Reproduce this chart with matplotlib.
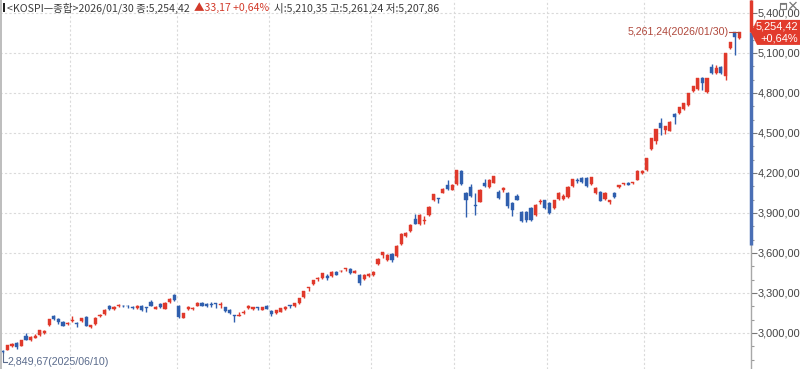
import matplotlib
matplotlib.use("Agg")
import matplotlib.pyplot as plt
from matplotlib.patches import Polygon, Rectangle
from matplotlib.ticker import MultipleLocator, FixedLocator

# ---------------- data ----------------
dates = [
    "2025/06/10", "2025/06/11", "2025/06/12", "2025/06/13", "2025/06/16", "2025/06/17", "2025/06/18",
    "2025/06/19", "2025/06/20", "2025/06/23", "2025/06/24", "2025/06/25", "2025/06/26", "2025/06/27",
    "2025/06/30",
    "2025/07/01", "2025/07/02", "2025/07/03", "2025/07/04", "2025/07/07", "2025/07/08", "2025/07/09",
    "2025/07/10", "2025/07/11", "2025/07/14", "2025/07/15", "2025/07/16", "2025/07/17", "2025/07/18",
    "2025/07/21", "2025/07/22", "2025/07/23", "2025/07/24", "2025/07/25", "2025/07/28", "2025/07/29",
    "2025/07/30", "2025/07/31",
    "2025/08/01", "2025/08/04", "2025/08/05", "2025/08/06", "2025/08/07", "2025/08/08", "2025/08/11",
    "2025/08/12", "2025/08/13", "2025/08/14", "2025/08/18", "2025/08/19", "2025/08/20", "2025/08/21",
    "2025/08/22", "2025/08/25", "2025/08/26", "2025/08/27", "2025/08/28", "2025/08/29",
    "2025/09/01", "2025/09/02", "2025/09/03", "2025/09/04", "2025/09/05", "2025/09/08", "2025/09/09",
    "2025/09/10", "2025/09/11", "2025/09/12", "2025/09/15", "2025/09/16", "2025/09/17", "2025/09/18",
    "2025/09/19", "2025/09/22", "2025/09/23", "2025/09/24", "2025/09/25", "2025/09/26", "2025/09/29",
    "2025/09/30",
    "2025/10/01", "2025/10/02", "2025/10/10", "2025/10/13", "2025/10/14", "2025/10/15", "2025/10/16",
    "2025/10/17", "2025/10/20", "2025/10/21", "2025/10/22", "2025/10/23", "2025/10/24", "2025/10/27",
    "2025/10/28", "2025/10/29", "2025/10/30", "2025/10/31",
    "2025/11/03", "2025/11/04", "2025/11/05", "2025/11/06", "2025/11/07", "2025/11/10", "2025/11/11",
    "2025/11/12", "2025/11/13", "2025/11/14", "2025/11/17", "2025/11/18", "2025/11/19", "2025/11/20",
    "2025/11/21", "2025/11/24", "2025/11/25", "2025/11/26", "2025/11/27", "2025/11/28",
    "2025/12/01", "2025/12/02", "2025/12/03", "2025/12/04", "2025/12/05", "2025/12/08", "2025/12/09",
    "2025/12/10", "2025/12/11", "2025/12/12", "2025/12/15", "2025/12/16", "2025/12/17", "2025/12/18",
    "2025/12/19", "2025/12/22", "2025/12/23", "2025/12/24", "2025/12/26", "2025/12/29", "2025/12/30",
    "2026/01/02", "2026/01/05", "2026/01/06", "2026/01/07", "2026/01/08", "2026/01/09", "2026/01/12",
    "2026/01/13", "2026/01/14", "2026/01/15", "2026/01/16", "2026/01/19", "2026/01/20", "2026/01/21",
    "2026/01/22", "2026/01/23", "2026/01/26", "2026/01/27", "2026/01/28", "2026/01/29", "2026/01/30",
]

opens = [
    2868, 2875, 2900, 2925, 2905, 2980, 2945, 2965, 2985, 3000, 3060, 3125, 3105, 3082, 3066,
    3092, 3075, 3090, 3118, 3045, 3068, 3125, 3142, 3200, 3180, 3200, 3205, 3205, 3195, 3185,
    3205, 3190, 3235, 3182, 3215, 3182, 3232, 3282,
    3205, 3115, 3180, 3180, 3205, 3225, 3220, 3212, 3220, 3212, 3192, 3172, 3130, 3130, 3150,
    3185, 3180, 3188, 3175, 3205,
    3168, 3150, 3160, 3180, 3205, 3202, 3225, 3268, 3340, 3368, 3405, 3410, 3430, 3428, 3460,
    3462, 3478, 3480, 3452, 3435, 3405, 3428,
    3435, 3518, 3588, 3548, 3590, 3578, 3668, 3730, 3768, 3855, 3818, 3840, 3885, 3998, 4012,
    4052, 4110, 4075,
    4118, 4218, 4052, 4095, 3960, 3985, 4128, 4095, 4128, 4060, 4075, 4048, 3975, 4025, 3910,
    3905, 3935, 3885, 3985, 3995,
    3972, 3937, 4005, 4005, 4018, 4102, 4150, 4160, 4162, 4118, 4052, 4058, 4005, 3985, 4050,
    4095, 4118, 4125, 4125, 4150, 4200,
    4222, 4380, 4442, 4572, 4522, 4518, 4640, 4652, 4678, 4710, 4818, 4828, 4910, 4810, 4998,
    4952, 4995, 4925, 5135, 5255, 5210.35,
]
highs = [
    2876, 2910, 2925, 2932, 2950, 3000, 2975, 2990, 3025, 3020, 3105, 3135, 3110, 3090, 3080,
    3130, 3080, 3115, 3125, 3062, 3118, 3145, 3180, 3210, 3200, 3215, 3212, 3208, 3200, 3210,
    3210, 3198, 3250, 3200, 3222, 3230, 3262, 3295,
    3210, 3150, 3200, 3192, 3230, 3232, 3225, 3235, 3225, 3232, 3198, 3178, 3135, 3155, 3170,
    3208, 3198, 3192, 3198, 3212,
    3172, 3175, 3190, 3200, 3210, 3228, 3265, 3318, 3348, 3398, 3418, 3452, 3440, 3462, 3466,
    3472, 3490, 3485, 3470, 3440, 3440, 3452,
    3462, 3560, 3610, 3590, 3600, 3660, 3750, 3755, 3815, 3892, 3892, 3880, 3950, 4045, 4015,
    4085, 4146, 4118,
    4226, 4225, 4060, 4115, 4050, 4078, 4155, 4155, 4180, 4070, 4092, 4055, 3985, 4040, 3915,
    3915, 3945, 3965, 4005, 4000,
    3980, 4000, 4055, 4040, 4100, 4158, 4160, 4172, 4168, 4172, 4092, 4065, 4055, 4000, 4055,
    4112, 4128, 4130, 4135, 4222, 4225,
    4315, 4465, 4530, 4610, 4555, 4588, 4650, 4698, 4728, 4800, 4855, 4912, 4920, 4915, 5015,
    5010, 5005, 5100, 5185, 5260, 5261.24,
]
lows = [
    2849.67, 2870, 2895, 2880, 2900, 2945, 2940, 2960, 2980, 2995, 3055, 3100, 3070, 3050, 3060,
    3085, 3045, 3085, 3050, 3040, 3062, 3120, 3138, 3175, 3175, 3195, 3195, 3185, 3178, 3182,
    3168, 3155, 3200, 3178, 3190, 3178, 3228, 3238,
    3112, 3110, 3175, 3170, 3200, 3200, 3198, 3195, 3185, 3190, 3160, 3145, 3085, 3125, 3145,
    3180, 3175, 3170, 3170, 3178,
    3130, 3145, 3155, 3175, 3190, 3198, 3220, 3262, 3318, 3362, 3390, 3405, 3400, 3420, 3432,
    3455, 3465, 3445, 3448, 3360, 3400, 3420,
    3430, 3510, 3560, 3540, 3535, 3570, 3660, 3720, 3760, 3815, 3812, 3820, 3880, 3990, 3975,
    4048, 4070, 4070,
    4110, 4110, 3870, 4020, 3885, 3980, 4098, 4090, 4122, 4005, 4055, 3935, 3875, 3995, 3835,
    3830, 3840, 3875, 3970, 3930,
    3895, 3930, 4000, 4000, 4012, 4098, 4125, 4125, 4098, 4112, 4045, 3990, 3998, 3965, 4015,
    4090, 4108, 4108, 4115, 4145, 4195,
    4215, 4375, 4420, 4485, 4495, 4512, 4570, 4645, 4670, 4705, 4810, 4820, 4820, 4800, 4945,
    4945, 4945, 4900, 5130, 5085, 5207.86,
]
closes = [
    2855, 2907, 2920, 2894, 2946, 2950, 2972, 2978, 3021, 3014, 3103, 3108, 3079, 3056, 3072,
    3098, 3070, 3110, 3055, 3058, 3112, 3138, 3175, 3182, 3196, 3210, 3200, 3200, 3188, 3205,
    3172, 3188, 3205, 3198, 3192, 3222, 3258, 3245,
    3119, 3147, 3198, 3188, 3225, 3205, 3203, 3208, 3218, 3212, 3168, 3150, 3128, 3135, 3155,
    3200, 3192, 3186, 3195, 3182,
    3140, 3170, 3185, 3195, 3203, 3222, 3260, 3315, 3344, 3395, 3407, 3449, 3410, 3460, 3438,
    3468, 3482, 3452, 3465, 3378, 3435, 3440,
    3458, 3552, 3605, 3585, 3550, 3655, 3745, 3748, 3812, 3820, 3885, 3850, 3942, 4042, 4008,
    4080, 4078, 4110,
    4220, 4120, 4000, 4028, 3950, 4073, 4105, 4150, 4175, 4011, 4089, 3953, 3925, 3998, 3842,
    3846, 3850, 3960, 3987, 3937,
    3902, 3995, 4048, 4030, 4098, 4152, 4140, 4130, 4105, 4167, 4088, 3992, 4050, 3995, 4020,
    4108, 4120, 4110, 4128, 4218, 4218,
    4310, 4460, 4528, 4535, 4552, 4585, 4622, 4692, 4725, 4798, 4852, 4910, 4878, 4910, 4952,
    4990, 4950, 5098, 5180, 5221.25, 5254.42,
]

y_ticks = [3000, 3300, 3600, 3900, 4200, 4500, 4800, 5100, 5400]
prev_close = 5221.25

# ---------------- style ----------------
RED = "#e0392b"
BLUE = "#2f5fae"
GRID = "#dadada"
TXT = "#3c3c3c"
KFONT = ["Noto Sans CJK KR", "DejaVu Sans"]
NFONT = ["Liberation Sans", "DejaVu Sans"]

W, H = 800, 369
fig = plt.figure(figsize=(W / 100, H / 100), dpi=100)
fig.patch.set_facecolor("white")

AX_RIGHT_PX = 751
ax = fig.add_axes([0, 0, AX_RIGHT_PX / W, 1])
ax.set_facecolor("white")

n = len(dates)
ax.set_xlim(-0.6, 161.5)
ax.set_ylim(2730, 5497.5)

# grid
for v in y_ticks:
    ax.axhline(v, color=GRID, lw=0.8, ls=(0, (2, 2)), zorder=0)
for i in range(1, n):
    if dates[i][:7] != dates[i - 1][:7]:
        ax.axvline(i - 0.5, color=GRID, lw=0.8, ls=(0, (2, 2)), zorder=0)

# candles
for i in range(n):
    o, h, l, c = opens[i], highs[i], lows[i], closes[i]
    col = RED if c >= o else BLUE
    ax.vlines(i, l, h, color=col, lw=1.0, zorder=2)
    bot = min(o, c)
    ht = max(abs(c - o), 6)
    ax.bar(i, ht, bottom=bot, width=0.68, color=col, edgecolor=col, lw=0.3, zorder=3)

# axes / spines
for s in ["top", "left", "bottom"]:
    ax.spines[s].set_visible(False)
ax.spines["right"].set_color("#a8a8a8")
ax.spines["right"].set_linewidth(1.0)
ax.xaxis.set_visible(False)
ax.yaxis.tick_right()
ax.yaxis.set_major_locator(FixedLocator(y_ticks))
ax.yaxis.set_minor_locator(MultipleLocator(100))
ax.set_yticklabels([f"{v:,.2f}".replace(".", ",") for v in y_ticks])
ax.tick_params(axis="y", which="major", direction="out", length=4, width=0.8,
               color="#777777", pad=1, labelsize=7.9, labelcolor="#444444")
ax.tick_params(axis="y", which="minor", direction="out", length=2, width=0.8, color="#999999")
for lab in ax.get_yticklabels():
    lab.set_family(NFONT)

# colored range bar on axis
yt = ax.get_yaxis_transform()
ax.plot([1.0, 1.0], [3660, closes[-1]], transform=yt, color="#4a6fb5", lw=2.5,
        solid_capstyle="butt", clip_on=False, zorder=5)
ax.plot([1.0, 1.0], [closes[-1], 5497.5], transform=yt, color=RED, lw=2.5,
        solid_capstyle="butt", clip_on=False, zorder=5)

# price tag
tag_h = 12.5 * 7.5
xr = 1.0
xt = W / AX_RIGHT_PX
c_last = closes[-1]
tag = Polygon([[xr, c_last], [xr + 0.008, c_last + tag_h], [xt, c_last + tag_h],
               [xt, c_last - tag_h], [xr + 0.008, c_last - tag_h]],
              closed=True, transform=yt, facecolor="#e23b2c", edgecolor="none",
              clip_on=False, zorder=6)
ax.add_patch(tag)
chg = (c_last - prev_close) / prev_close * 100
ax.text(xt - 0.003, c_last + 5.5 * 7.5, f"{c_last:,.2f}".replace(".", ","), transform=yt,
        ha="right", va="center", color="white", fontsize=7.9, family=NFONT, zorder=7)
ax.text(xt - 0.003, c_last - 6 * 7.5, f"+{chg:.2f}%".replace(".", ","), transform=yt,
        ha="right", va="center", color="white", fontsize=7.9, family=NFONT, zorder=7)

# high annotation
imax = max(range(n), key=lambda k: highs[k])
hv = highs[imax]
ax.plot([imax - 2.2, imax, imax], [hv, hv, hv - 20], color="#b0483c", lw=0.8, zorder=4)
ax.text(imax - 2.4, hv, f"{hv:,.2f}".replace(".", ",") + f"({dates[imax]})",
        ha="right", va="center", fontsize=7.7, color="#b0483c", family=NFONT)

# low annotation
imin = min(range(n), key=lambda k: lows[k])
lv = lows[imin]
ax.plot([imin, imin, imin + 1.0], [lv, lv - 8.5 * 7.5, lv - 8.5 * 7.5], color="#5a6b8c",
        lw=0.8, zorder=4, clip_on=False)
ax.text(imin + 1.1, lv - 8.5 * 7.5, f"{lv:,.2f}".replace(".", ",") + f"({dates[imin]})",
        ha="left", va="center", fontsize=7.7, color="#5a6b8c", family=NFONT)

# overlay in pixel coords
ov = fig.add_axes([0, 0, 1, 1])
ov.set_xlim(0, W)
ov.set_ylim(H, 0)
ov.axis("off")
ov.patch.set_alpha(0)
ov.plot([1.2, 1.2], [0, H], color="#bdbdbd", lw=1.4)
ov.add_patch(Rectangle((3, 3), 2.2, 9, facecolor="#222222", edgecolor="none"))

delta = c_last - prev_close
ov.text(7, 8, f"<KOSPI—종합>{dates[-1]} 종:" + f"{c_last:,.2f}".replace(".", ","),
        ha="left", va="center", fontsize=7.6, color=TXT, family=KFONT)
ov.text(194, 8, "▲" + f"{delta:,.2f}".replace(".", ",") + " " + f"+{chg:.2f}%".replace(".", ","),
        ha="left", va="center", fontsize=7.6, color="#d23a2a", family=KFONT)
ov.text(274, 8, "시:" + f"{opens[-1]:,.2f}".replace(".", ",") + " 고:" +
        f"{highs[-1]:,.2f}".replace(".", ",") + " 저:" + f"{lows[-1]:,.2f}".replace(".", ","),
        ha="left", va="center", fontsize=7.6, color=TXT, family=KFONT)

# window icons
ov.add_patch(Rectangle((780, 2.5), 6, 6, facecolor="none", edgecolor="#777777", lw=0.8))
ov.plot([781, 785], [3.5, 3.5], color="#777777", lw=1.2)
ov.plot([790, 796], [2.5, 8.5], color="#777777", lw=0.9)
ov.plot([790, 796], [8.5, 2.5], color="#777777", lw=0.9)

fig.savefig("out.png", dpi=100)
